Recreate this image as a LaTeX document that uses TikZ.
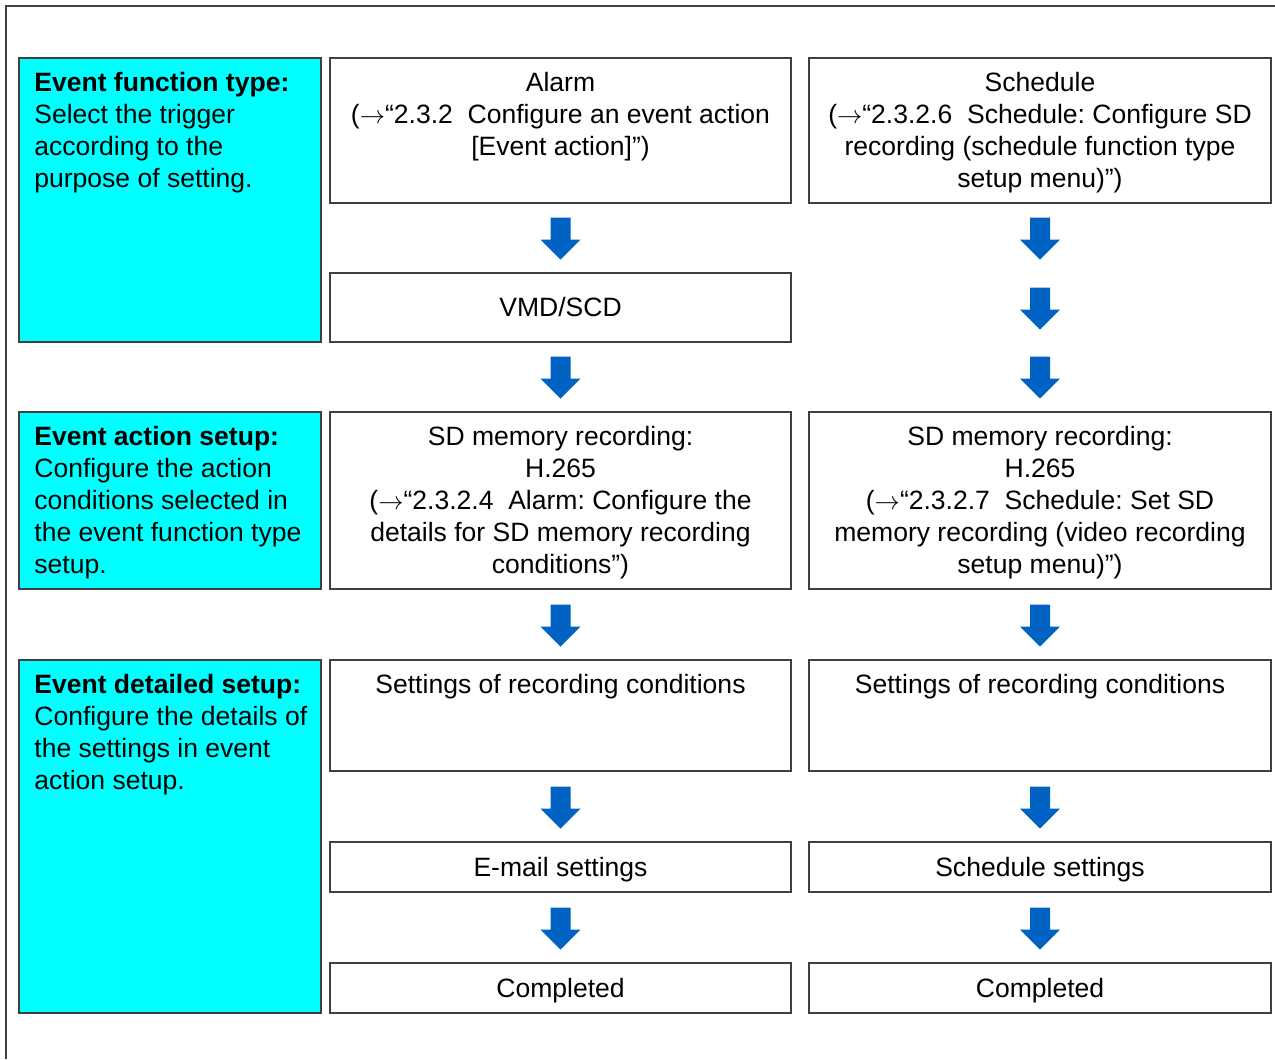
\documentclass[tikz,border=0pt]{standalone}
\usepackage{fontspec}
\setmainfont{Liberation Sans}
\usetikzlibrary{positioning,fit,calc}
\definecolor{EvCyan}{HTML}{00FFFF}
\definecolor{EvBlue}{HTML}{0062C2}
\definecolor{EvLine}{HTML}{404040}
\newcommand\evfont{\fontsize{15.1}{18.3}\selectfont}
\frenchspacing

\begin{document}
\begin{tikzpicture}[
    x=0.02cm, y=-0.02cm,
    sidebox/.style={draw=EvLine, line width=0.7pt, fill=EvCyan, inner sep=0pt},
    stepbox/.style={draw=EvLine, line width=0.7pt, fill=white, inner sep=0pt},
    sidetxt/.style={anchor=north west, align=left, inner sep=0pt, outer sep=0pt,
                    font=\evfont},
    steptxt/.style={anchor=north, align=center, inner sep=0pt, outer sep=0pt,
                    font=\evfont},
    midtxt/.style={inner sep=0pt, font=\evfont, text height=10.8pt, text depth=0pt},
    blkarrow/.pic={\fill[EvBlue] (-10,0) -- (-10,22) -- (-20,22) -- (0,42)
                     -- (20,22) -- (10,22) -- (10,0) -- cycle;},
  ]
    \useasboundingbox (0,0) rectangle (1275,1059);
    \draw[EvLine, line width=0.7pt] (6,1059) -- (6,6) -- (1275,6);

    % ── Row 1: event function type ──────────────────────────────────────
    \node[sidebox, fit={(19,58) (321,342)}]   (ftype) {};
    \node[stepbox, fit={(330,58) (791,203)}]  (alarm) {};
    \node[stepbox, fit={(809,58) (1271,203)}] (sched) {};
    \node[stepbox, fit={(330,273) (791,342)}] (vmd)   {};

    \node[sidetxt] at ([xshift=0.32cm, yshift=-0.29cm]ftype.north west)
      {\textbf{Event function type:}\\Select the trigger\\according to the\\purpose of setting.};
    \node[steptxt, below=0.29cm of alarm.north]
      {Alarm\\(${\rightarrow}$“2.3.2\ \ Configure an event action\\{[}Event action{]}”)};
    \node[steptxt, below=0.29cm of sched.north]
      {Schedule\\(${\rightarrow}$“2.3.2.6\ \ Schedule: Configure SD\\recording (schedule function type\\setup menu)”)};
    \node[midtxt] at (vmd) {VMD/SCD};

    % ── Row 2: event action setup ───────────────────────────────────────
    \node[sidebox, fit={(19,412) (321,589)}]   (actset) {};
    \node[stepbox, fit={(330,412) (791,589)}]  (sdA)    {};
    \node[stepbox, fit={(809,412) (1271,589)}] (sdS)    {};

    \node[sidetxt] at ([xshift=0.32cm, yshift=-0.29cm]actset.north west)
      {\textbf{Event action setup:}\\Configure the action\\conditions selected in\\the event function type\\setup.};
    \node[steptxt, below=0.29cm of sdA.north]
      {SD memory recording:\\H.265\\(${\rightarrow}$“2.3.2.4\ \ Alarm: Configure the\\details for SD memory recording\\conditions”)};
    \node[steptxt, below=0.29cm of sdS.north]
      {SD memory recording:\\H.265\\(${\rightarrow}$“2.3.2.7\ \ Schedule: Set SD\\memory recording (video recording\\setup menu)”)};

    % ── Row 3: event detailed setup ─────────────────────────────────────
    \node[sidebox, fit={(19,660) (321,1013)}]  (detset) {};
    \node[stepbox, fit={(330,660) (791,771)}]  (recA)   {};
    \node[stepbox, fit={(809,660) (1271,771)}] (recS)   {};
    \node[stepbox, fit={(330,842) (791,892)}]  (email)  {};
    \node[stepbox, fit={(809,842) (1271,892)}] (schset) {};
    \node[stepbox, fit={(330,963) (791,1013)}] (doneA)  {};
    \node[stepbox, fit={(809,963) (1271,1013)}](doneS)  {};

    \node[sidetxt] at ([xshift=0.32cm, yshift=-0.29cm]detset.north west)
      {\textbf{Event detailed setup:}\\Configure the details of\\the settings in event\\action setup.};
    \node[steptxt, below=0.29cm of recA.north] {Settings of recording conditions};
    \node[steptxt, below=0.29cm of recS.north] {Settings of recording conditions};
    \node[midtxt] at (email)  {E-mail settings};
    \node[midtxt] at (schset) {Schedule settings};
    \node[midtxt] at (doneA)  {Completed};
    \node[midtxt] at (doneS)  {Completed};

    % ── Block arrows below each box ─────────────────────────────────────
    \foreach \n/\d in {alarm/14, sched/14, sched/84, sched/153, vmd/14,
                       sdA/15, sdS/15, recA/15, recS/15, email/15, schset/15}
      \pic at ($(\n.south)+(0,\d)$) {blkarrow};
  \end{tikzpicture}
\end{document}
